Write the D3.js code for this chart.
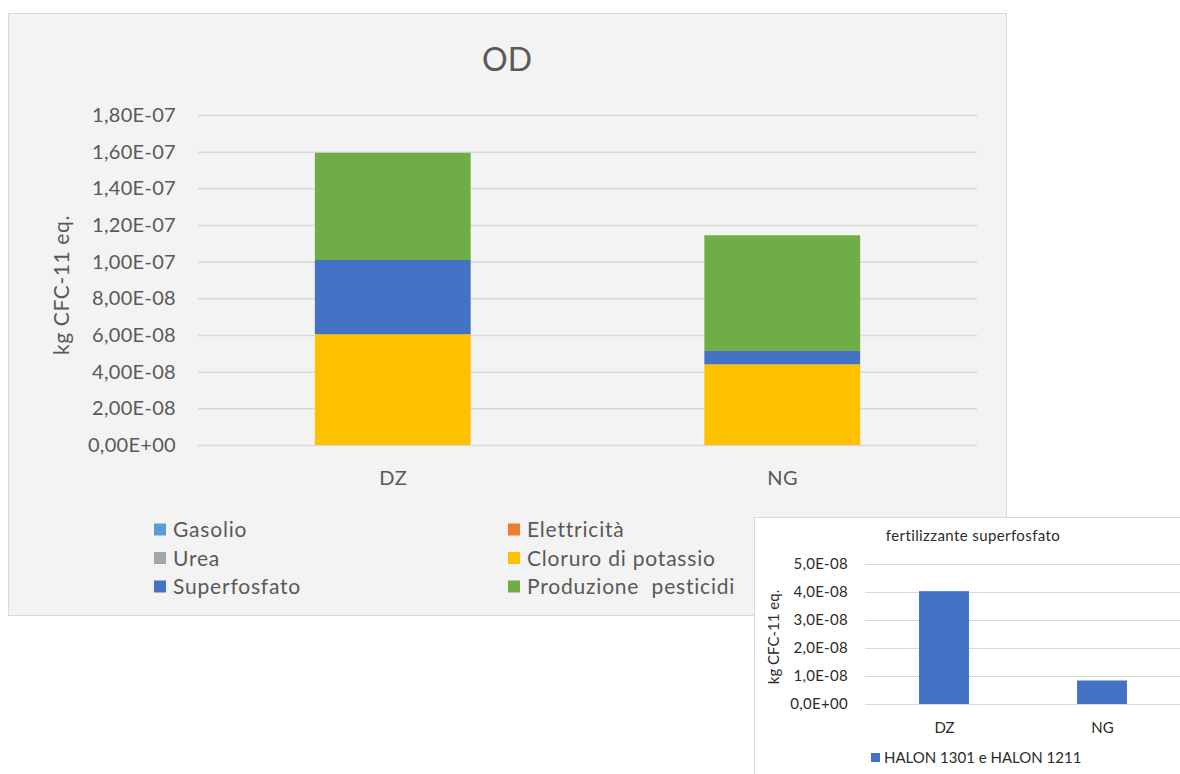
<!DOCTYPE html>
<html><head><meta charset="utf-8">
<script src="https://cdn.jsdelivr.net/npm/d3@7"></script>
<style>
html,body{margin:0;padding:0;background:#fff;}
svg{display:block;}
text{font-family:Lato,"Open Sans",sans-serif;}
</style></head>
<body>
<svg id="c" width="1180" height="774"></svg>
<script>
// ---------- data ----------
const categories = ["DZ", "NG"];
const seriesNames = ["Gasolio", "Elettricità", "Urea", "Cloruro di potassio", "Superfosfato", "Produzione  pesticidi"];
const gasolio = [0, 0];
const elettricita = [0, 0];
const urea = [0, 0];
const cloruroPotassio = [6.04e-8, 4.40e-8];
const superfosfato = [4.05e-8, 0.73e-8];
const produzionePesticidi = [5.85e-8, 6.31e-8];
const seriesColors = ["#5B9BD5", "#ED7D31", "#A5A5A5", "#FFC000", "#4472C4", "#70AD47"];
const mainTickValues = [0, 2e-8, 4e-8, 6e-8, 8e-8, 1e-7, 1.2e-7, 1.4e-7, 1.6e-7, 1.8e-7];
const mainTickLabels = ["0,00E+00", "2,00E-08", "4,00E-08", "6,00E-08", "8,00E-08", "1,00E-07", "1,20E-07", "1,40E-07", "1,60E-07", "1,80E-07"];

const insetCategories = ["DZ", "NG"];
const halon = [4.03e-8, 0.84e-8];
const insetTickValues = [0, 1e-8, 2e-8, 3e-8, 4e-8, 5e-8];
const insetTickLabels = ["0,0E+00", "1,0E-08", "2,0E-08", "3,0E-08", "4,0E-08", "5,0E-08"];

// ---------- main chart ----------
const svg = d3.select("#c");
const txt = "#595959";

svg.append("rect").attr("x", 8.5).attr("y", 13.5).attr("width", 998).attr("height", 602)
  .attr("fill", "#f3f3f3").attr("stroke", "#d9d9d9");

svg.append("text").attr("x", 507).attr("y", 71).attr("text-anchor", "middle")
  .attr("font-size", 32).attr("fill", txt).text("OD");

const y = d3.scaleLinear().domain([0, 1.8e-7]).range([445, 115]);
const x = d3.scalePoint().domain(categories).range([198, 977]).padding(0.5);
const barW = x.step() * 0.4;

// grid
const yAxis = d3.axisLeft(y).tickValues(mainTickValues)
  .tickFormat((d, i) => mainTickLabels[i]).tickSize(-(977 - 198)).tickPadding(22);
const gy = svg.append("g").attr("transform", "translate(198,0)").call(yAxis);
gy.select(".domain").remove();
gy.selectAll("line").attr("stroke", "#d9d9d9").attr("stroke-width", 1.5);
gy.selectAll("text").attr("font-size", 20).attr("letter-spacing", "0.3px").attr("fill", txt).attr("font-family", "Lato");

// stacked bars
const rows = categories.map((c, i) => ({
  cat: c,
  "Gasolio": gasolio[i], "Elettricità": elettricita[i], "Urea": urea[i],
  "Cloruro di potassio": cloruroPotassio[i], "Superfosfato": superfosfato[i],
  "Produzione  pesticidi": produzionePesticidi[i]
}));
const stack = d3.stack().keys(seriesNames)(rows);
svg.append("g").selectAll("g").data(stack).join("g")
  .attr("fill", (d, i) => seriesColors[i])
  .selectAll("rect").data(d => d).join("rect")
  .attr("x", d => x(d.data.cat) - barW / 2)
  .attr("width", barW)
  .attr("y", d => y(d[1]))
  .attr("height", d => y(d[0]) - y(d[1]));

// x axis labels
const xAxis = d3.axisBottom(x).tickSize(0).tickPadding(26);
const gx = svg.append("g").attr("transform", "translate(0,445)").call(xAxis);
gx.select(".domain").remove();
gx.selectAll("text").attr("font-size", 20).attr("letter-spacing", "0.5px").attr("fill", txt).attr("font-family", "Lato");

// y title
svg.append("text").attr("transform", "translate(69,285) rotate(-90)")
  .attr("text-anchor", "middle").attr("font-size", 21).attr("letter-spacing", "0.6px").attr("fill", txt).text("kg CFC-11 eq.");

// legend (2 columns, 3 rows)
const leg = svg.append("g");
seriesNames.forEach((s, i) => {
  const col = i % 2, row = Math.floor(i / 2);
  const lx = col === 0 ? 154 : 508;
  const ly = 530 + row * 28.5;
  leg.append("rect").attr("x", lx).attr("y", ly - 6.5).attr("width", 12).attr("height", 12).attr("fill", seriesColors[i]);
  leg.append("text").attr("x", lx + 19).attr("y", ly).attr("dy", "0.35em")
    .attr("font-size", 21).attr("letter-spacing", "0.8px").attr("fill", txt).style("white-space", "pre").text(s);
});

// ---------- inset chart ----------
const ins = svg.append("g");
ins.append("rect").attr("x", 754.5).attr("y", 517.5).attr("width", 430).attr("height", 270)
  .attr("fill", "#ffffff").attr("stroke", "#d9d9d9");
const itxt = "#2b2b2b";
ins.append("text").attr("x", 973).attr("y", 541).attr("text-anchor", "middle")
  .attr("font-size", 15).attr("letter-spacing", "0.4px").attr("fill", itxt).text("fertilizzante superfosfato");

const yi = d3.scaleLinear().domain([0, 5e-8]).range([704, 564]);
const xi = d3.scalePoint().domain(insetCategories).range([865, 1181]).padding(0.5);
const biW = xi.step() * 0.316;

const yiAxis = d3.axisLeft(yi).tickValues(insetTickValues)
  .tickFormat((d, i) => insetTickLabels[i]).tickSize(-(1180 - 865)).tickPadding(17);
const giy = ins.append("g").attr("transform", "translate(865,0)").call(yiAxis);
giy.select(".domain").remove();
giy.selectAll("line").attr("stroke", "#d9d9d9").attr("stroke-width", 1.2);
giy.selectAll("text").attr("font-size", 15).attr("letter-spacing", "0.3px").attr("fill", itxt).attr("font-family", "Lato");

ins.append("g").selectAll("rect").data(halon).join("rect")
  .attr("x", (d, i) => xi(insetCategories[i]) - biW / 2)
  .attr("width", biW)
  .attr("y", d => yi(d))
  .attr("height", d => yi(0) - yi(d))
  .attr("fill", "#4472C4");

const xiAxis = d3.axisBottom(xi).tickSize(0).tickPadding(18);
const gix = ins.append("g").attr("transform", "translate(0,704)").call(xiAxis);
gix.select(".domain").remove();
gix.selectAll("text").attr("font-size", 15).attr("fill", itxt).attr("font-family", "Lato");

ins.append("text").attr("transform", "translate(779,637) rotate(-90)")
  .attr("text-anchor", "middle").attr("font-size", 15).attr("fill", itxt).text("kg CFC-11 eq.");

ins.append("rect").attr("x", 871).attr("y", 753).attr("width", 9).attr("height", 9).attr("fill", "#4472C4");
ins.append("text").attr("x", 884).attr("y", 758).attr("dy", "0.35em")
  .attr("font-size", 15).attr("fill", itxt).text("HALON 1301 e HALON 1211");
</script>
</body></html>
